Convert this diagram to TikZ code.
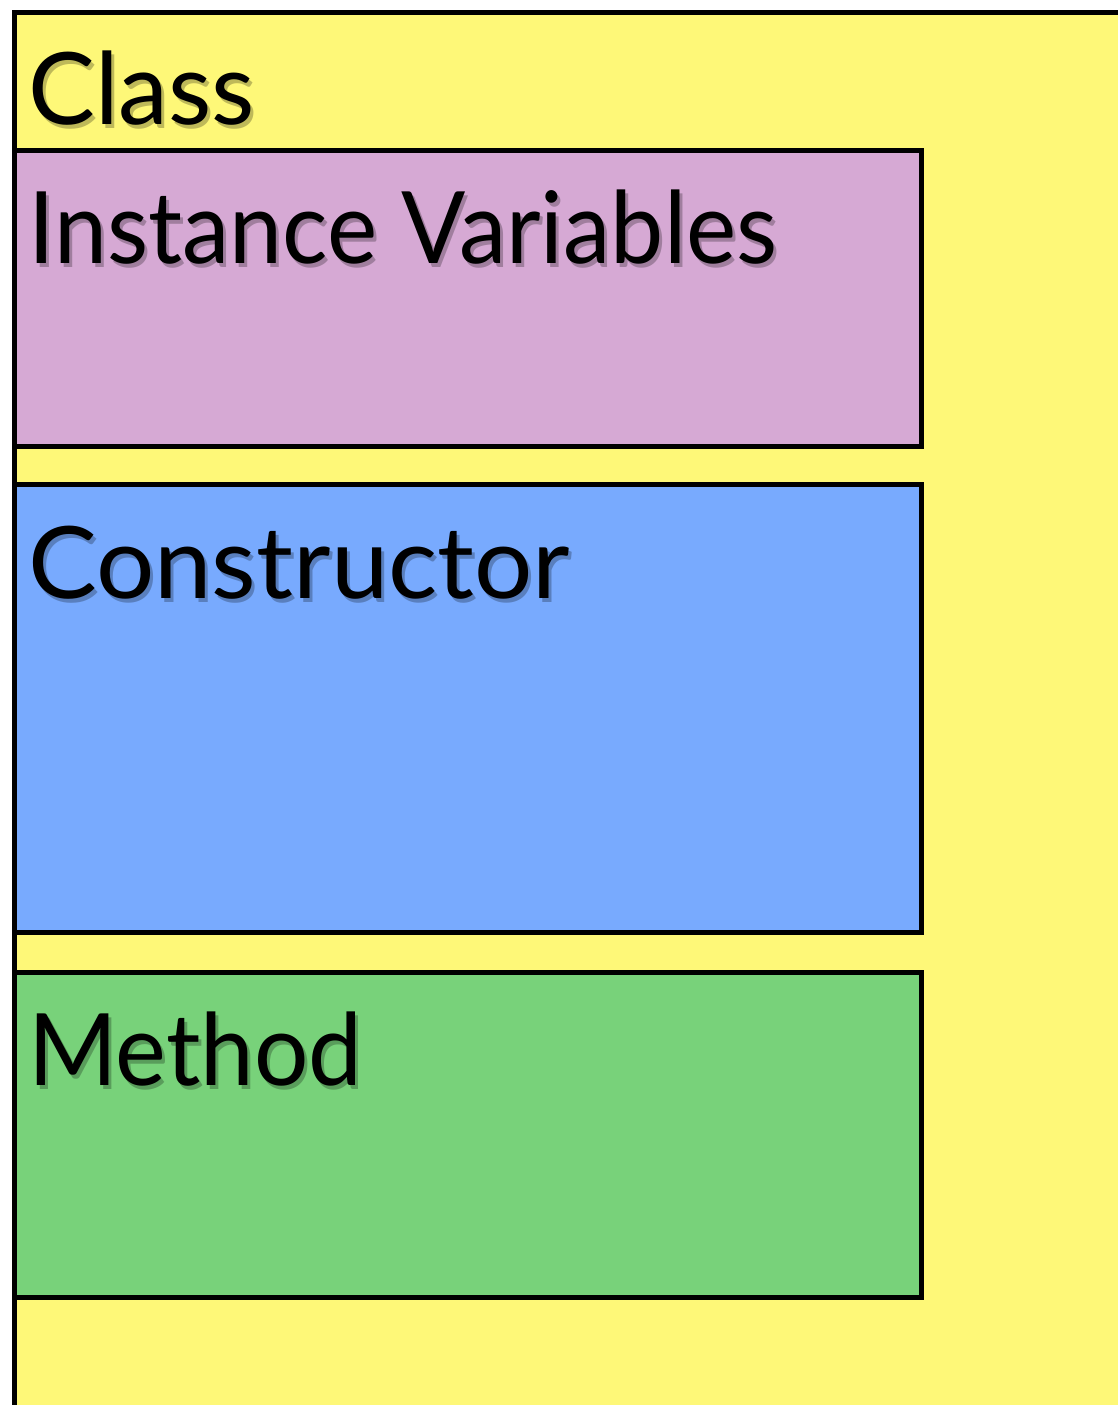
\documentclass[tikz,border=0pt]{standalone}
\usepackage{fontspec}
\setmainfont{Lato}
\usetikzlibrary{calc}
\definecolor{classyellow}{HTML}{FEF878}
\definecolor{ivpink}{HTML}{D6A9D4}
\definecolor{ctorblue}{HTML}{78AAFE}
\definecolor{methgreen}{HTML}{78D27A}
\tikzset{
  section/.style={draw=black, line width=5pt, rectangle, inner sep=0pt, minimum width=907pt},
  lbl/.style={anchor=base west, inner sep=0pt, font=\fontsize{100}{100}\selectfont, text=black},
  shd/.style={lbl, text=black, opacity=0.25},
}
\newcommand{\shadowlabel}[4]{%
  \node[shd] (#1s) at ($(#2)+(3,4)$) {\scalebox{#4}[1]{#3}};
  \node[lbl] (#1) at (#2) {\scalebox{#4}[1]{#3}};}
\begin{document}
\begin{tikzpicture}[x=1pt,y=-1pt]
\useasboundingbox (0,0) rectangle (1118,1405);
\fill[classyellow] (14,13) rectangle (1130,1420);
\draw[line width=5pt] (14,1420) -- (14,13) -- (1130,13);
\node[section, fill=ivpink, minimum height=296pt] (ivbox) at (467.5,298.5) {};
\node[section, fill=ctorblue, minimum height=448pt] (ctorbox) at (467.5,708) {};
\node[section, fill=methgreen, minimum height=325pt] (methbox) at (467.5,1134.5) {};
\coordinate (pclass) at (28,124);
\coordinate (piv) at (28,263);
\coordinate (pctor) at (28,598);
\coordinate (pmeth) at (28,1085);
\shadowlabel{classlbl}{pclass}{Class}{1.0}
\shadowlabel{ivlbl}{piv}{Instance Variables}{0.95}
\shadowlabel{ctorlbl}{pctor}{Constructor}{1.03}
\shadowlabel{methlbl}{pmeth}{Method}{0.96}
\end{tikzpicture}
\end{document}
